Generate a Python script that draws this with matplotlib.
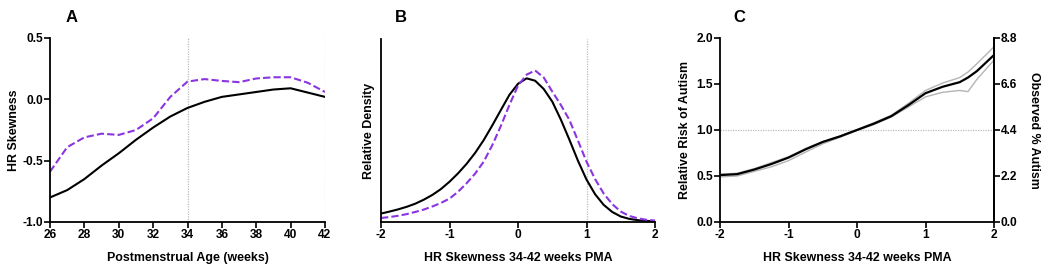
import matplotlib
matplotlib.use("Agg")
import matplotlib.pyplot as plt

plt.rcParams['font.family'] = ['Liberation Sans', 'DejaVu Sans']
plt.rcParams['font.weight'] = 'bold'
plt.rcParams['axes.unicode_minus'] = False

# ---------------- Panel A data ----------------
weeks = [26, 27, 28, 29, 30, 31, 32, 33, 34, 35, 36, 37, 38, 39, 40, 41, 42]
skew_black = [-0.80, -0.74, -0.65, -0.54, -0.44, -0.33, -0.23, -0.14, -0.07,
              -0.02, 0.02, 0.04, 0.06, 0.08, 0.09, 0.055, 0.02]
skew_purple = [-0.59, -0.39, -0.31, -0.28, -0.29, -0.25, -0.155, 0.02, 0.145,
               0.165, 0.15, 0.14, 0.17, 0.18, 0.18, 0.135, 0.06]
a_xticks = [26, 28, 30, 32, 34, 36, 38, 40, 42]
a_yticks = [-1.0, -0.5, 0.0, 0.5]

# ---------------- Panel B data ----------------
b_x = [-2.0, -1.875, -1.75, -1.625, -1.5, -1.375, -1.25, -1.125, -1.0, -0.875,
       -0.75, -0.625, -0.5, -0.375, -0.25, -0.125, 0.0, 0.125, 0.25, 0.375,
       0.5, 0.625, 0.75, 0.875, 1.0, 1.125, 1.25, 1.375, 1.5, 1.625, 1.75,
       1.875, 2.0]
dens_black = [0.046, 0.057, 0.069, 0.083, 0.100, 0.122, 0.148, 0.180, 0.220,
              0.266, 0.318, 0.378, 0.448, 0.528, 0.612, 0.695, 0.755, 0.785,
              0.772, 0.727, 0.658, 0.560, 0.450, 0.335, 0.232, 0.152, 0.094,
              0.055, 0.030, 0.017, 0.010, 0.006, 0.004]
dens_purple = [0.022, 0.027, 0.034, 0.043, 0.055, 0.068, 0.085, 0.104, 0.128,
               0.165, 0.212, 0.265, 0.330, 0.420, 0.525, 0.640, 0.745, 0.805,
               0.828, 0.790, 0.713, 0.640, 0.558, 0.445, 0.330, 0.235, 0.156,
               0.098, 0.057, 0.033, 0.020, 0.012, 0.008]
skew_ticks = [-2, -1, 0, 1, 2]

# ---------------- Panel C data ----------------
c_x = [-2.0, -1.75, -1.5, -1.25, -1.0, -0.75, -0.5, -0.25, 0.0, 0.25, 0.5,
       0.75, 1.0, 1.25, 1.5, 1.62, 1.75, 2.0]
rr_mean = [0.51, 0.52, 0.57, 0.63, 0.70, 0.79, 0.87, 0.93, 1.00, 1.07, 1.15,
           1.27, 1.40, 1.47, 1.52, 1.57, 1.64, 1.815]
rr_upper = [0.52, 0.53, 0.58, 0.645, 0.71, 0.80, 0.875, 0.935, 1.005, 1.08,
            1.16, 1.29, 1.43, 1.51, 1.57, 1.63, 1.72, 1.905]
rr_lower = [0.49, 0.50, 0.55, 0.60, 0.667, 0.76, 0.85, 0.92, 0.995, 1.06,
            1.14, 1.25, 1.36, 1.41, 1.43, 1.417, 1.55, 1.76]
rr_ticks = [0.0, 0.5, 1.0, 1.5, 2.0]
pct_ticks = [0.0, 2.2, 4.4, 6.6, 8.8]

PURPLE = '#8B35E0'
GREY = '#b4b4b4'
TICK_FS = 8.6
LABEL_FS = 8.9

fig = plt.figure(figsize=(10.5, 2.66), dpi=100)
W, H = 1050, 266


def add_ax(l, r, t, b):
    return fig.add_axes([l / W, (H - b) / H, (r - l) / W, (b - t) / H])


def style(ax, right=False):
    ax.spines['top'].set_visible(False)
    ax.spines['right'].set_visible(right)
    for s in ax.spines.values():
        s.set_linewidth(1.3)
    ax.tick_params(direction='out', length=4, width=1.2, labelsize=TICK_FS, pad=1)
    for lab in ax.get_xticklabels() + ax.get_yticklabels():
        lab.set_fontweight('bold')


# Panel A
axA = add_ax(50, 325, 38, 222)
axA.plot(weeks, skew_black, color='black', lw=1.5)
axA.plot(weeks, skew_purple, color=PURPLE, lw=1.5, ls=(0, (3.5, 1.5)))
for xv in (34, 42):
    axA.axvline(xv, color='#bdbdbd', lw=0.9, ls=(0, (1, 1)), zorder=0)
axA.set_xlim(26, 42)
axA.set_ylim(-1.0, 0.5)
axA.set_xticks(a_xticks)
axA.set_yticks(a_yticks)
axA.set_yticklabels(['-1.0', '-0.5', '0.0', '0.5'])
style(axA)
axA.set_xlabel('Postmenstrual Age (weeks)', fontsize=LABEL_FS, fontweight='bold', labelpad=8)
axA.set_ylabel('HR Skewness', fontsize=LABEL_FS, fontweight='bold', labelpad=2)

# Panel B
axB = add_ax(381, 655, 39, 222)
axB.plot(b_x, dens_black, color='black', lw=1.5)
axB.plot(b_x, dens_purple, color=PURPLE, lw=1.5, ls=(0, (3.5, 1.5)))
axB.axvline(1, color='#bdbdbd', lw=0.9, ls=(0, (1, 1)), zorder=0)
axB.set_xlim(-2, 2)
axB.set_ylim(0, 1)
axB.set_xticks(skew_ticks)
axB.set_yticks([])
style(axB)
axB.set_xlabel('HR Skewness 34-42 weeks PMA', fontsize=LABEL_FS, fontweight='bold', labelpad=8)
axB.set_ylabel('Relative Density', fontsize=LABEL_FS, fontweight='bold', labelpad=4)

# Panel C
axC = add_ax(720, 994, 38, 222)
axC.plot(c_x, rr_upper, color=GREY, lw=1.0)
axC.plot(c_x, rr_lower, color=GREY, lw=1.0)
axC.plot(c_x, rr_mean, color='black', lw=1.6)
axC.axhline(1.0, color='#bdbdbd', lw=0.9, ls=(0, (1, 1)), zorder=0)
axC.set_xlim(-2, 2)
axC.set_ylim(0, 2.0)
axC.set_xticks(skew_ticks)
axC.set_yticks(rr_ticks)
axC.set_yticklabels(['0.0', '0.5', '1.0', '1.5', '2.0'])
style(axC, right=True)
axC.set_xlabel('HR Skewness 34-42 weeks PMA', fontsize=LABEL_FS, fontweight='bold', labelpad=8)
axC.set_ylabel('Relative Risk of Autism', fontsize=LABEL_FS, fontweight='bold', labelpad=4)
axC2 = axC.twinx()
axC2.set_ylim(0, 8.8)
axC2.set_yticks(pct_ticks)
axC2.set_yticklabels(['0.0', '2.2', '4.4', '6.6', '8.8'])
style(axC2, right=True)
axC2.spines['left'].set_visible(False)
axC2.spines['bottom'].set_visible(False)
axC2.set_ylabel('Observed % Autism', fontsize=LABEL_FS, fontweight='bold',
                rotation=270, labelpad=16)

# Panel letters
for x, lab in ((72, 'A'), (401, 'B'), (739, 'C')):
    fig.text(x / W, 1 - 17 / H, lab, fontsize=12, fontweight='bold',
             ha='center', va='center')

fig.savefig('out.png', dpi=100)
